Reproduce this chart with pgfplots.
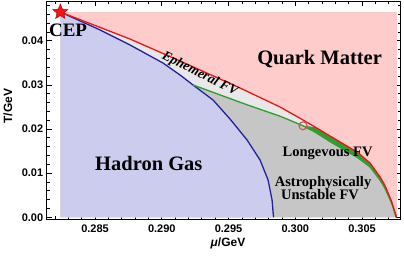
\documentclass[border=0pt]{standalone}
\usepackage{fontspec}
\setmainfont{Liberation Serif}
\setsansfont{Liberation Sans}
\usepackage{pgfplots}
\pgfplotsset{compat=1.18}
\definecolor{qpink}{HTML}{FFCCCC}
\definecolor{hlav}{HTML}{CCCCEE}
\definecolor{lgray}{HTML}{E8E8E8}
\definecolor{dgray}{HTML}{C6C6C6}
\definecolor{fvgreen}{HTML}{2E9E2E}
\definecolor{tred}{HTML}{F01414}
\definecolor{hblue}{HTML}{2222A0}
\definecolor{cred}{HTML}{D05050}
\pgfdeclareplotmark{fstar}{%
  \pgfpathmoveto{\pgfpointpolar{90}{\pgfplotmarksize}}%
  \pgfpathlineto{\pgfpointpolar{126}{0.45\pgfplotmarksize}}%
  \pgfpathlineto{\pgfpointpolar{162}{\pgfplotmarksize}}%
  \pgfpathlineto{\pgfpointpolar{198}{0.45\pgfplotmarksize}}%
  \pgfpathlineto{\pgfpointpolar{234}{\pgfplotmarksize}}%
  \pgfpathlineto{\pgfpointpolar{270}{0.45\pgfplotmarksize}}%
  \pgfpathlineto{\pgfpointpolar{306}{\pgfplotmarksize}}%
  \pgfpathlineto{\pgfpointpolar{342}{0.45\pgfplotmarksize}}%
  \pgfpathlineto{\pgfpointpolar{18}{\pgfplotmarksize}}%
  \pgfpathlineto{\pgfpointpolar{54}{0.45\pgfplotmarksize}}%
  \pgfpathclose
  \pgfusepathqfillstroke
}
\begin{document}
\begin{tikzpicture}
\begin{axis}[
  name=ax, at={(0,0)}, anchor=south west,
  scale only axis, width=353.8pt, height=217.8pt,
  xmin=0.28138, xmax=0.30788, ymin=-0.00045, ymax=0.04888,
  xtick={0.285,0.290,0.295,0.300,0.305},
  xticklabels={0.285,0.290,0.295,0.300,0.305},
  ytick={0,0.01,0.02,0.03,0.04},
  yticklabels={0.00,0.01,0.02,0.03,0.04},
  minor xtick={0.282,0.283,0.284,0.286,0.287,0.288,0.289,0.291,0.292,0.293,0.294,0.296,0.297,0.298,0.299,0.301,0.302,0.303,0.304,0.306,0.307},
  minor ytick={0.002,0.004,0.006,0.008,0.012,0.014,0.016,0.018,0.022,0.024,0.026,0.028,0.032,0.034,0.036,0.038,0.042,0.044,0.046,0.048},
  tick align=inside, major tick length=5pt, minor tick length=2.8pt,
  axis line style={line width=1pt},
  every tick/.style={black, line width=0.7pt},
  xticklabel style={font=\sffamily\bfseries\fontsize{11}{13}\selectfont, yshift=-2pt},
  yticklabel style={font=\sffamily\bfseries\fontsize{11}{13}\selectfont},
  xlabel={\textit{μ}/GeV}, ylabel={T/GeV},
  xlabel style={font=\sffamily\bfseries\fontsize{12}{14}\selectfont, at={(axis description cs:0.5124,-0.111)}, anchor=center},
  ylabel style={font=\sffamily\bfseries\fontsize{12}{14}\selectfont, at={(axis description cs:-0.1094,0.52)}, anchor=center},
  clip=false,
]
% quark matter background
\addplot[draw=none, fill=qpink] coordinates {(0.2824,0) (0.30758,0) (0.30758,0.0465) (0.2824,0.0465)} -- cycle;
% light gray: below red curve
\addplot[draw=none, fill=lgray] coordinates {
 (0.28240,0.04650) (0.28762,0.04038) (0.29137,0.03540) (0.29586,0.02929)
 (0.29886,0.02498) (0.30058,0.02204) (0.30148,0.02045) (0.30260,0.01841)
 (0.30373,0.01638) (0.30463,0.01479) (0.30560,0.01230) (0.30635,0.00913)
 (0.30668,0.00740) (0.30695,0.00550) (0.30720,0.00370) (0.30740,0.00180)
 (0.30752,0.00070) (0.30758,0) (0.2824,0)} -- cycle;
% green band
\addplot[draw=none, fill=fvgreen] coordinates {
 (0.30058,0.02073) (0.30148,0.02045) (0.30260,0.01841)
 (0.30373,0.01638) (0.30463,0.01479) (0.30560,0.01230) (0.30635,0.00913)
 (0.30668,0.00740) (0.30695,0.00550) (0.30720,0.00370) (0.30740,0.00180)
 (0.30752,0.00070) (0.30758,0)
 (0.30754,0) (0.30750,0.00050) (0.30740,0.00150) (0.30720,0.00330)
 (0.30695,0.00500) (0.30668,0.00680) (0.30635,0.00840) (0.30560,0.01140)
 (0.30463,0.01360) (0.30373,0.01515) (0.30260,0.01715) (0.30148,0.01930)} -- cycle;
% dark gray: below green line
\addplot[draw=none, fill=dgray] coordinates {
 (0.29234,0.02997) (0.29639,0.02548) (0.29886,0.02290) (0.30058,0.02073)
 (0.30148,0.01930) (0.30260,0.01715) (0.30373,0.01515) (0.30463,0.01360)
 (0.30560,0.01140) (0.30635,0.00840) (0.30668,0.00680) (0.30695,0.00500)
 (0.30720,0.00330) (0.30740,0.00150) (0.30750,0.00050) (0.30754,0)
 (0.29234,0)} -- cycle;
% hadron gas: below blue curve
\addplot[draw=none, fill=hlav] coordinates {
 (0.28240,0.04650) (0.28537,0.04245) (0.28762,0.03903) (0.29009,0.03495)
 (0.29137,0.03223) (0.29234,0.02997) (0.29384,0.02657) (0.29511,0.02227)
 (0.29639,0.01751) (0.29736,0.01298) (0.29796,0.00845) (0.29826,0.00392)
 (0.29837,0) (0.2824,0)} -- cycle;
% blue line
\addplot[hblue, line width=1.3pt, line join=round] coordinates {
 (0.28240,0.04650) (0.28537,0.04245) (0.28762,0.03903) (0.29009,0.03495)
 (0.29137,0.03223) (0.29234,0.02997) (0.29384,0.02657) (0.29511,0.02227)
 (0.29639,0.01751) (0.29736,0.01298) (0.29796,0.00845) (0.29826,0.00392)
 (0.29837,0)};
% green line
\addplot[fvgreen, line width=1.3pt, line join=round] coordinates {
 (0.29234,0.02997) (0.29639,0.02548) (0.29886,0.02290) (0.30058,0.02073)
 (0.30148,0.01930) (0.30260,0.01715) (0.30373,0.01515) (0.30463,0.01360)
 (0.30560,0.01140) (0.30635,0.00840) (0.30668,0.00680) (0.30695,0.00500)
 (0.30720,0.00330) (0.30740,0.00150) (0.30750,0.00050) (0.30754,0)};
% red line
\addplot[tred, line width=1.3pt, line join=round] coordinates {
 (0.28240,0.04650) (0.28762,0.04038) (0.29137,0.03540) (0.29586,0.02929)
 (0.29886,0.02498) (0.30058,0.02204) (0.30148,0.02045) (0.30260,0.01841)
 (0.30373,0.01638) (0.30463,0.01479) (0.30560,0.01230) (0.30635,0.00913)
 (0.30668,0.00740) (0.30695,0.00550) (0.30720,0.00370) (0.30740,0.00180)
 (0.30752,0.00070) (0.30758,0)};
% circle
\addplot[only marks, mark=o, mark size=4pt, mark options={draw=cred, line width=1.1pt}] coordinates {(0.30058,0.02073)};
% CEP star
\addplot[only marks, mark=fstar, mark size=8pt, mark options={fill=tred, draw=red!70!black, line width=0.4pt}] coordinates {(0.28240,0.04650)};
% labels
\node[anchor=base, font=\bfseries\fontsize{19}{20}\selectfont] at (axis cs:0.28298,0.04106) {CEP};
\node[anchor=base, font=\bfseries\fontsize{20.5}{22}\selectfont] at (axis cs:0.30182,0.0345) {Quark Matter};
\node[anchor=base, font=\bfseries\fontsize{20.5}{22}\selectfont] at (axis cs:0.28903,0.01049) {Hadron Gas};
\node[anchor=base, font=\bfseries\fontsize{14.5}{16}\selectfont] at (axis cs:0.30242,0.01366) {Longevous FV};
\node[anchor=base, font=\bfseries\fontsize{14.5}{16}\selectfont] at (axis cs:0.30208,0.00709) {Astrophysically};
\node[anchor=base, font=\bfseries\fontsize{14.5}{16}\selectfont] at (axis cs:0.30185,0.00414) {Unstable FV};
\node[rotate=-27, font=\bfseries\itshape\fontsize{13.5}{15}\selectfont] at (axis cs:0.29285,0.03245) {Ephemeral FV};
\end{axis}
\pgfresetboundingbox
\path[use as bounding box] ([shift={(-46.7pt,-38.7pt)}]ax.south west) rectangle ([shift={(3.5pt,1.5pt)}]ax.north east);
\end{tikzpicture}
\end{document}
